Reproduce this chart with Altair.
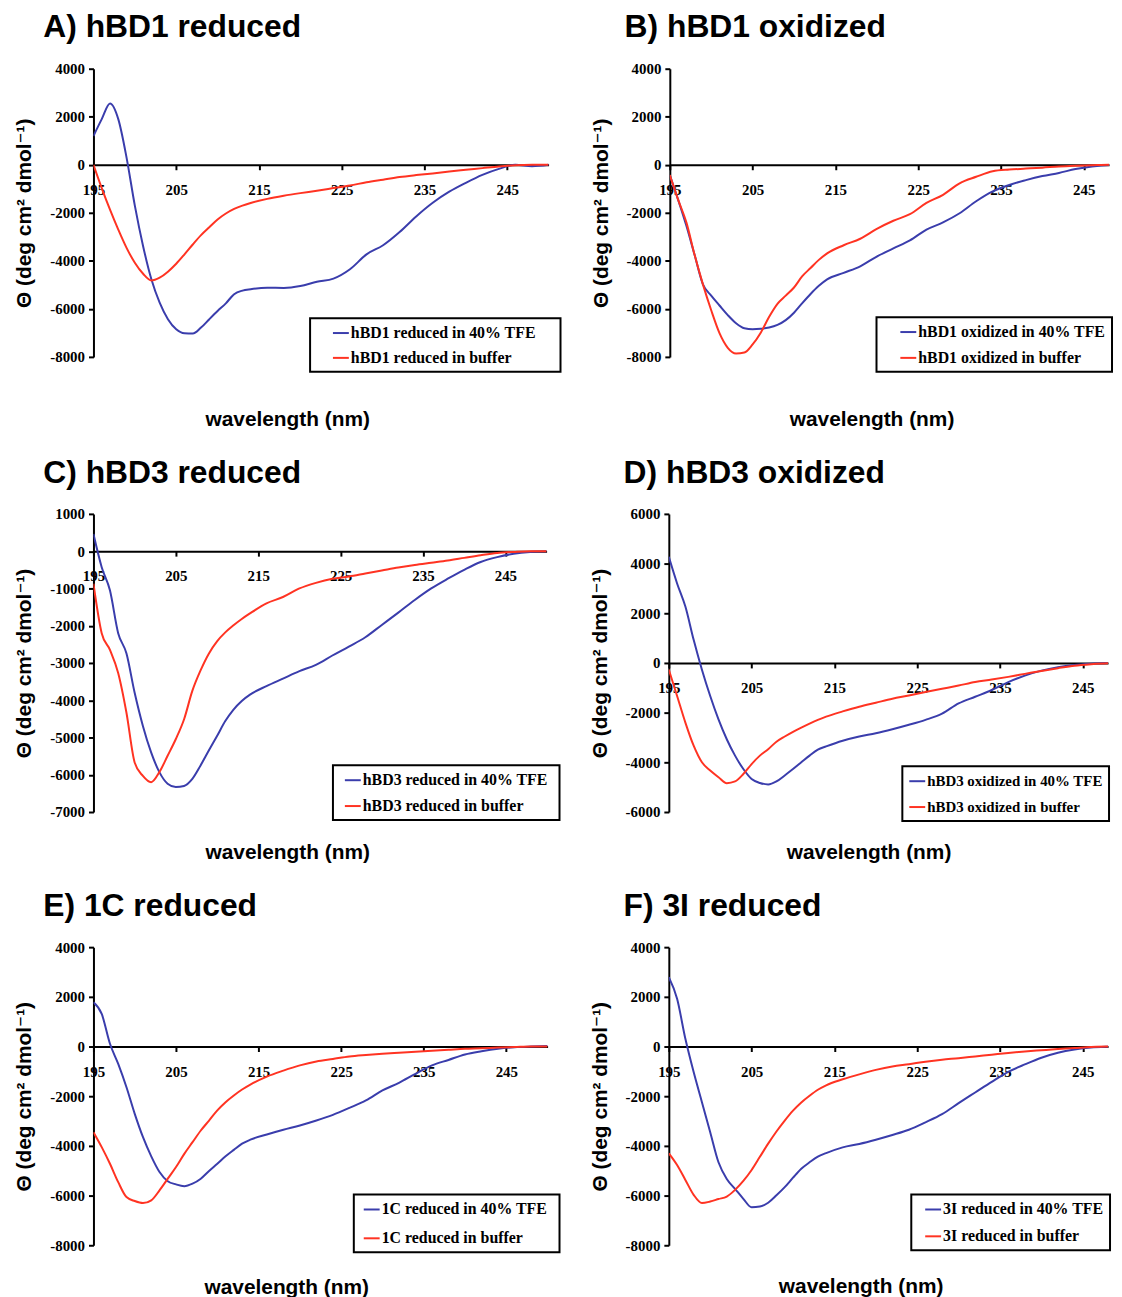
import altair as alt
import pandas as pd

# wavelength grid (nm)
WL = list(range(195, 215)) + list(range(216, 251, 2))
XTICKS = [195, 205, 215, 225, 235, 245]

# ---- A) hBD1 reduced
A_TFE = [1200, 1900, 2550, 1900, 300, -1700, -3390, -4770, -5740, -6430,
         -6850, -7020, -7030, -6780, -6430, -6090, -5770, -5390, -5240, -5180,
         -5120, -5130, -5050, -4870, -4740, -4350, -3730, -3350, -2800, -2150,
         -1580, -1120, -750, -420, -170, 0, -60, 0]
A_BUF = [0, -970, -1870, -2700, -3460, -4080, -4540, -4820, -4700, -4450,
         -4120, -3730, -3320, -2930, -2600, -2280, -2030, -1840, -1700, -1590,
         -1420, -1290, -1180, -1080, -970, -860, -730, -620, -510, -430,
         -360, -280, -210, -140, -70, -20, 0, 0]
# ---- B) hBD1 oxidized
B_TFE = [-430, -1450, -2540, -3760, -4980, -5450, -5860, -6260, -6600, -6810,
         -6850, -6830, -6780, -6670, -6470, -6160, -5760, -5380, -5040, -4770,
         -4500, -4230, -3820, -3480, -3150, -2700, -2400, -2020, -1520, -1110,
         -840, -640, -470, -340, -180, -70, -10, 0]
B_BUF = [-430, -1450, -2400, -3760, -4980, -6060, -7010, -7620, -7860, -7820,
         -7480, -6980, -6330, -5790, -5450, -5110, -4640, -4300, -3960, -3690,
         -3350, -3080, -2670, -2330, -2060, -1590, -1250, -770, -500, -270,
         -200, -160, -120, -70, -40, -20, 0, 0]
# ---- C) hBD3 reduced
C_TFE = [460, -430, -1050, -2200, -2740, -3800, -4690, -5400, -5930, -6240,
         -6330, -6300, -6110, -5750, -5350, -4960, -4560, -4250, -4020, -3850,
         -3620, -3420, -3220, -3050, -2800, -2560, -2310, -1980, -1650, -1310,
         -1000, -740, -500, -290, -160, -70, -20, 0]
C_BUF = [-870, -2200, -2650, -3270, -4330, -5670, -6030, -6200, -5930, -5490,
         -5040, -4510, -3750, -3200, -2750, -2420, -2180, -1990, -1820, -1670,
         -1400, -1230, -1000, -850, -740, -680, -600, -520, -440, -370,
         -310, -250, -180, -110, -50, -20, 0, 0]
# ---- D) hBD3 oxidized
D_TFE = [4270, 3200, 2270, 930, -270, -1330, -2270, -3070, -3730, -4270,
         -4670, -4830, -4890, -4770, -4530, -4270, -4000, -3730, -3490, -3360,
         -3130, -2960, -2830, -2670, -2490, -2290, -2040, -1630, -1360, -1090,
         -770, -510, -310, -170, -80, -30, 0, 0]
D_BUF = [-270, -1330, -2400, -3330, -4000, -4330, -4600, -4840, -4770, -4470,
         -4070, -3730, -3470, -3170, -2960, -2770, -2600, -2440, -2290, -2160,
         -1950, -1760, -1600, -1440, -1310, -1170, -1040, -910, -770, -670,
         -560, -440, -320, -210, -110, -50, -10, 0]
# ---- E) 1C reduced
E_TFE = [1780, 1310, 110, -700, -1640, -2710, -3650, -4420, -5050, -5420,
         -5550, -5620, -5520, -5320, -5010, -4720, -4420, -4160, -3910, -3750,
         -3540, -3350, -3180, -2980, -2750, -2470, -2170, -1770, -1460, -1100,
         -760, -540, -320, -190, -90, -30, 0, 20]
E_BUF = [-3450, -4050, -4720, -5460, -6060, -6220, -6300, -6190, -5790, -5320,
         -4850, -4320, -3850, -3380, -2980, -2570, -2240, -1970, -1730, -1530,
         -1210, -970, -760, -600, -500, -400, -340, -290, -250, -210,
         -170, -130, -90, -70, -40, -20, 0, 0]
# ---- F) 3I reduced
F_TFE = [2790, 1920, 310, -1030, -2240, -3450, -4660, -5330, -5730, -6130,
         -6470, -6440, -6290, -5990, -5660, -5280, -4920, -4660, -4430, -4290,
         -4060, -3920, -3750, -3560, -3350, -3050, -2720, -2280, -1850, -1420,
         -1020, -720, -450, -250, -120, -40, -10, 0]
F_BUF = [-4300, -4770, -5370, -5970, -6300, -6240, -6140, -6040, -5770, -5410,
         -4970, -4440, -3910, -3420, -2980, -2580, -2250, -1980, -1740, -1560,
         -1320, -1120, -940, -800, -710, -610, -530, -470, -400, -330,
         -260, -200, -150, -100, -60, -20, 0, 0]

TITLES = ["A) hBD1 reduced", "B) hBD1 oxidized", "C) hBD3 reduced",
          "D) hBD3 oxidized", "E) 1C reduced", "F) 3I reduced"]
LABELS = [("hBD1 reduced in 40% TFE", "hBD1 reduced in buffer"),
          ("hBD1 oxidized in 40% TFE", "hBD1 oxidized in buffer"),
          ("hBD3 reduced in 40% TFE", "hBD3 reduced in buffer"),
          ("hBD3 oxidized in 40% TFE", "hBD3 oxidized in buffer"),
          ("1C reduced in 40% TFE", "1C reduced in buffer"),
          ("3I reduced in 40% TFE", "3I reduced in buffer")]
SERIES = [(A_TFE, A_BUF), (B_TFE, B_BUF), (C_TFE, C_BUF),
          (D_TFE, D_BUF), (E_TFE, E_BUF), (F_TFE, F_BUF)]
YDOM = [(-8000, 4000), (-8000, 4000), (-7000, 1000),
        (-6000, 6000), (-8000, 4000), (-8000, 4000)]
YTICKS = [list(range(-8000, 4001, 2000)), list(range(-8000, 4001, 2000)),
          list(range(-7000, 1001, 1000)), list(range(-6000, 6001, 2000)),
          list(range(-8000, 4001, 2000)), list(range(-8000, 4001, 2000))]

BLUE = "#3a3dac"
RED = "#ff3322"
YTITLE = "\u0398 (deg cm\u00b2 dmol\u207b\u00b9)"

# layout (pixels); right-hand panels are cut near the page edge like the original
GEOM = [
    dict(w=458, h=290, xmax=250, lx=218, ly=251, so=16, tpad=19, rp=8, lf=16, tx=195, tp=212, dx=-51),
    dict(w=442, h=290, xmax=248.05, lx=208, ly=250, so=17, tpad=None, rp=9, lf=16, tx=203, tp=212, dx=-46),
    dict(w=456, h=300, xmax=250, lx=241, ly=253, so=5, tpad=6, rp=9, lf=16, tx=195, tp=259, dx=-51),
    dict(w=442, h=300, xmax=248.05, lx=235, ly=254, so=0, tpad=None, rp=9, lf=15, tx=201, tp=147, dx=-46),
    dict(w=457, h=300, xmax=250, lx=262, ly=249, so=3, tpad=6, rp=12, lf=16, tx=194, tp=199, dx=-51),
    dict(w=442, h=300, xmax=248.05, lx=244, ly=249, so=7, tpad=None, rp=10, lf=16, tx=193, tp=198, dx=-46),
]


def panel(i):
    g = GEOM[i]
    tfe, buf = SERIES[i]
    lab = LABELS[i]
    df = pd.concat([
        pd.DataFrame({"wl": WL, "v": tfe, "s": lab[0], "k": 0}),
        pd.DataFrame({"wl": WL, "v": buf, "s": lab[1], "k": 1}),
    ])
    ymin, ymax = YDOM[i]
    H, W = g["h"], g["w"]
    zero = H * ymax / (ymax - ymin)
    xscale = alt.Scale(domain=[195, g["xmax"]], nice=False, zero=False)

    leg = dict(orient="none", legendX=g["lx"], legendY=g["ly"],
               symbolType="stroke", symbolSize=256, symbolStrokeWidth=2,
               symbolOffset=g["so"], labelOffset=1, rowPadding=g["rp"],
               padding=6, strokeColor="black", labelFont="Liberation Serif",
               labelFontWeight="bold", labelFontSize=g["lf"],
               labelColor="black", labelLimit=0)
    if g["tpad"] is None:
        leg["title"] = None
    else:
        leg.update(title="\u00a0", titleOrient="right",
                   titlePadding=g["tpad"], titleFontSize=10)

    lines = alt.Chart(df).mark_line(strokeWidth=2, interpolate="monotone",
                                    clip=True).encode(
        x=alt.X("wl:Q", scale=xscale,
                axis=alt.Axis(values=XTICKS, format="d", offset=-(H - zero),
                              tickSize=5, labelPadding=13, labelFlush=False,
                              labelOverlap=False,
                              title="wavelength (nm)", titlePadding=g["tp"],
                              titleX=g["tx"], titleAlign="center")),
        y=alt.Y("v:Q",
                scale=alt.Scale(domain=[ymin, ymax], nice=False, zero=False),
                axis=alt.Axis(values=YTICKS[i], labelExpr="'' + datum.value",
                              tickSize=5, labelPadding=4, labelFlush=False,
                              labelOverlap=False,
                              title=YTITLE, titlePadding=15)),
        color=alt.Color("s:N",
                        scale=alt.Scale(domain=list(lab), range=[BLUE, RED]),
                        legend=alt.Legend(**leg)),
        order=alt.Order("k:Q"),
    )

    # panel heading, carried by an invisible top axis
    head = alt.Chart(pd.DataFrame({"wl": [195]})).mark_rule(opacity=0).encode(
        x=alt.X("wl:Q", scale=xscale,
                axis=alt.Axis(orient="top", labels=False, ticks=False,
                              domain=False, title=TITLES[i],
                              titleX=g["dx"], titleY=-57, titleAlign="left",
                              titleBaseline="top",
                              titleFont="Liberation Sans",
                              titleFontWeight="bold", titleFontSize=32,
                              titleColor="black")),
    )

    return alt.layer(lines, head).resolve_axis(x="independent").properties(
        width=W, height=H)


rows = []
for r in range(3):
    rows.append(
        alt.hconcat(panel(2 * r), panel(2 * r + 1), spacing=27)
        .resolve_scale(color="independent", y="independent", x="independent")
        .resolve_legend(color="independent")
    )

chart = alt.vconcat(*rows, spacing=25).resolve_scale(
    color="independent", y="independent", x="independent"
).resolve_legend(color="independent").properties(
    padding={"left": 5, "top": -2, "right": 0, "bottom": 0}
).configure_view(stroke="transparent").configure_axis(
    domainColor="black", domainWidth=2, tickColor="black", tickWidth=2,
    labelFont="Liberation Serif", labelFontWeight="bold", labelFontSize=15,
    labelColor="black", titleFont="Liberation Sans, DejaVu Sans",
    titleFontWeight="bold", titleFontSize=21, titleColor="black", grid=False
).configure_legend(strokeWidth=2)

chart.save("out.html", embed_options={"renderer": "svg", "actions": False})
